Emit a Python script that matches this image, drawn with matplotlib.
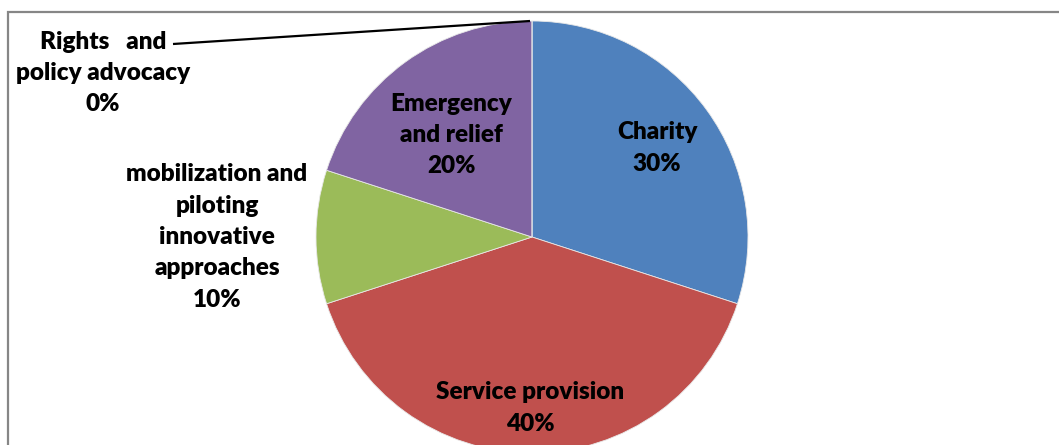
import matplotlib
matplotlib.use("Agg")
import matplotlib.pyplot as plt
from matplotlib.patches import Rectangle

# Share of activities by type
categories = ["Charity", "Service provision",
              "mobilization and\npiloting\ninnovative\napproaches",
              "Emergency\nand relief", "Rights   and\npolicy advocacy"]
values = [30, 40, 10, 20, 0]
colors = ["#4F81BD", "#C0504D", "#9BBB59", "#8064A2", "#4BACC6"]

W, H = 1059, 445
fig = plt.figure(figsize=(W / 100, H / 100), dpi=100)
ax = fig.add_axes([0, 0, 1, 1])
ax.set_xlim(0, W)
ax.set_ylim(0, H)
ax.axis("off")

cx, cy, r = 532, H - 237, 216
ax.pie(values, colors=colors, startangle=90, counterclock=False,
       center=(cx, cy), radius=r, wedgeprops=dict(linewidth=0.6, edgecolor="#e8e8e8"))
ax.set_aspect("auto")
ax.set_xlim(0, W)
ax.set_ylim(0, H)

# chart-area border (runs off the right and bottom edges)
ax.add_patch(Rectangle((8, -20), W + 20, H - 12 + 20, fill=False,
                       edgecolor="#868686", linewidth=1.6))

font = dict(family=["Lato", "DejaVu Sans"], fontweight="heavy", fontsize=17.5,
            color="black", ha="center", va="center", linespacing=1.52)

# label anchor points (x, y from top)
label_pos = [(657, 148), (530, 408), (217, 237), (451, 135), (103, 73)]
for name, v, (x, y) in zip(categories, values, label_pos):
    ax.text(x, H - y, f"{name}\n{v}%", **font)

# leader line for the zero-size slice
ax.plot([173, 530], [H - 44, H - 21], color="black", linewidth=1.6,
        solid_capstyle="butt")

fig.savefig("out.png", dpi=100)
